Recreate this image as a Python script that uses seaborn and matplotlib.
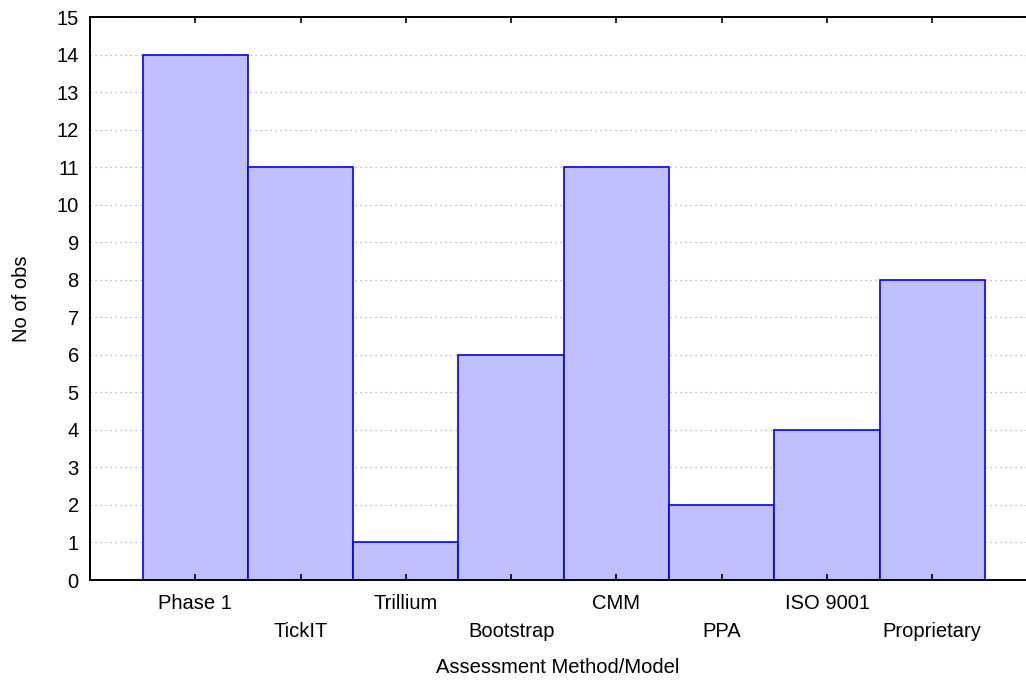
import pandas as pd
import matplotlib.pyplot as plt
import seaborn as sns

# Data
methods = ['Phase 1', 'TickIT', 'Trillium', 'Bootstrap', 'CMM', 'PPA', 'ISO 9001', 'Proprietary']
counts = [14, 11, 1, 6, 11, 2, 4, 8]
y_ticks = list(range(0, 16))

df = pd.DataFrame({'Method': methods, 'Count': counts})

sns.set_style("white")
plt.rcParams['font.family'] = ['Liberation Sans', 'DejaVu Sans']
plt.rcParams['text.color'] = 'black'
plt.rcParams['axes.labelcolor'] = 'black'
plt.rcParams['xtick.color'] = 'black'
plt.rcParams['ytick.color'] = 'black'
plt.rcParams['xtick.bottom'] = True
plt.rcParams['xtick.top'] = True
plt.rcParams['xtick.direction'] = 'in'

fig = plt.figure(figsize=(10.26, 6.81), dpi=100)
ax = fig.add_axes([0.0877, 0.1483, 0.9123, 0.8267])

# dotted horizontal grid, kept behind the bars
for y in y_ticks[1:]:
    ax.axhline(y, linestyle=(0, (1, 3)), color='#aaaaaa', linewidth=0.9, zorder=0)

sns.barplot(data=df, x='Method', y='Count', width=1.0, color='#C0C0FF',
            saturation=1, edgecolor='#0000FF', linewidth=1.2, ax=ax, zorder=1)
ax.set_axisbelow(False)  # ticks drawn over the bars

ax.set_xlim(-1, 7.89)
ax.set_ylim(0, 15)
ax.set_yticks(y_ticks)

# staggered x labels
labels = [m if i % 2 == 0 else '\n' + m for i, m in enumerate(methods)]
ax.set_xticks(range(len(methods)))
ax.set_xticklabels(labels, fontsize=14.5)
for t in ax.get_xticklabels():
    t.set_linespacing(1.6)
ax.tick_params(axis='x', direction='in', length=4, width=1.2, top=True, bottom=True, pad=10)
ax.tick_params(axis='y', length=0, labelsize=14.5, pad=8)

for side in ['left', 'bottom', 'top']:
    ax.spines[side].set_color('black')
    ax.spines[side].set_linewidth(1.4)
ax.spines['right'].set_visible(False)

ax.set_xlabel('Assessment Method/Model', fontsize=14.5, labelpad=12)
ax.set_ylabel('No of obs', fontsize=14.5, labelpad=18)

fig.savefig('out.png', dpi=100)
